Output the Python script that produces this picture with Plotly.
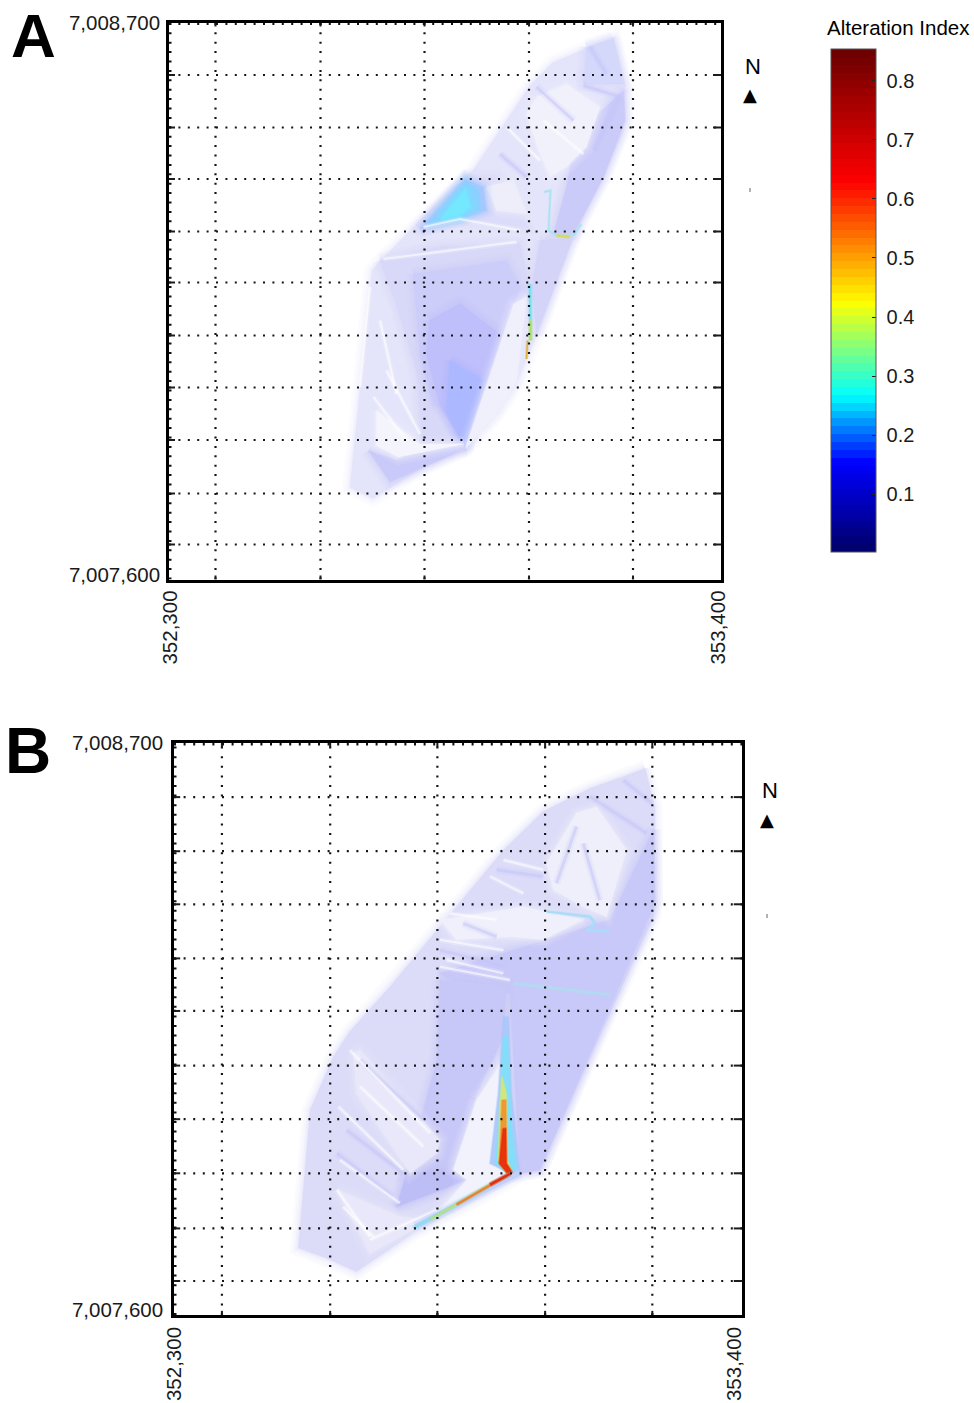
import numpy as np
import plotly.graph_objects as go

W, H = 974, 1403
FONT = "Liberation Sans"

# ---------- axes (metres, UTM-like) ----------
A_X_RANGE = [352302, 353406]
A_Y_RANGE = [7007584, 7008698]
B_X_RANGE = [352302, 353404]
B_Y_RANGE = [7007588, 7008698]
GRID_E = [352395, 352605, 352813, 353022, 353230]
GRID_N = [7008593, 7008488, 7008385, 7008280, 7008178, 7008072, 7007968, 7007863, 7007756, 7007654]
X_TICKTEXT = ["352,300", "353,400"]
Y_TICKTEXT = ["7,007,600", "7,008,700"]
A_X_TICKS = [352304, 353400]
A_Y_TICKS = [7007593, 7008698]
B_X_TICKS = [352302, 353390]
B_Y_TICKS = [7007598, 7008698]

# ---------- colour bar ----------
CB_TICKS = [0.1, 0.2, 0.3, 0.4, 0.5, 0.6, 0.7, 0.8]
CB_TICKTEXT = ["\u00a00.1", "\u00a00.2", "\u00a00.3", "\u00a00.4", "\u00a00.5", "\u00a00.6", "\u00a00.7", "\u00a00.8"]
CB_MIN, CB_MAX = 0.002, 0.854
CB_ANCHOR_POS = [0.0, 0.173, 0.308, 0.495, 0.74, 1.0]
CB_ANCHOR_RGB = [(0, 0, 110), (0, 0, 255), (0, 255, 255), (255, 255, 0), (255, 0, 0), (110, 0, 0)]

# ---------- panel A field ----------
A_OUT_E = [353190, 353198, 353214, 353214, 353208, 353170, 353110, 353044, 353018, 352998, 352958, 352894, 352810, 352710, 352664, 352674, 352690, 352708, 352730, 352810, 352910, 352978, 353024, 353070, 353144]
A_OUT_N = [7008668, 7008642, 7008576, 7008508, 7008476, 7008388, 7008268, 7008088, 7008028, 7007978, 7007916, 7007846, 7007808, 7007746, 7007768, 7007868, 7008036, 7008202, 7008226, 7008308, 7008402, 7008502, 7008572, 7008618, 7008648]
A_MID_E = [352724, 352844, 353004, 353021, 352964, 352894, 352811, 352797, 352757]
A_MID_N = [7008222, 7008249, 7008255, 7008175, 7008035, 7007845, 7007835, 7008002, 7008135]
A_MID2_E = [352790, 352977, 353004, 352964, 352911, 352831, 352804]
A_MID2_N = [7008195, 7008222, 7008169, 7008049, 7007909, 7007935, 7008035]
A_DEEP_E = [352824, 352884, 352971, 352894, 352844, 352817]
A_DEEP_N = [7008102, 7008135, 7008069, 7007845, 7007935, 7008035]
A_CORE_E = [352864, 352931, 352894, 352857]
A_CORE_N = [7008022, 7007982, 7007849, 7007922]
A_SOUTH_E = [352894, 352991, 353017, 352997, 352957]
A_SOUTH_N = [7007845, 7008135, 7008149, 7007979, 7007915]
A_SWB_E = [352701, 352744, 352894, 352811, 352757]
A_SWB_N = [7007842, 7007779, 7007845, 7007855, 7007822]
A_SWW_E = [352717, 352804, 352891, 352761, 352717]
A_SWW_N = [7007922, 7007855, 7007855, 7007829, 7007852]
A_HALO_E = [352794, 352901, 352957, 353004, 353017, 352911, 352871]
A_HALO_N = [7008279, 7008389, 7008389, 7008329, 7008289, 7008302, 7008305]
A_BOX_E = [352937, 352991, 353017, 352957]
A_BOX_N = [7008369, 7008382, 7008315, 7008322]
A_CY1_E = [352804, 352894, 352931, 352937, 352891]
A_CY1_N = [7008285, 7008385, 7008369, 7008322, 7008307]
A_CY15_E = [352819, 352896, 352921, 352924, 352887]
A_CY15_N = [7008294, 7008381, 7008362, 7008325, 7008307]
A_CY2_E = [352845, 352895, 352905, 352884]
A_CY2_N = [7008305, 7008365, 7008329, 7008312]
A_EAST_E = [353117, 353211, 353214, 353171, 353111, 353071, 353097]
A_EAST_N = [7008475, 7008562, 7008502, 7008389, 7008275, 7008275, 7008369]
A_EAST2_E = [353044, 353111, 353037, 353027]
A_EAST2_N = [7008262, 7008269, 7008075, 7008169]
A_NW_E = [353037, 353097, 353164, 353137, 353097, 353064, 353044, 353017]
A_NW_N = [7008549, 7008575, 7008529, 7008449, 7008409, 7008389, 7008435, 7008515]
A_FAN_E = [353137, 353191, 353211, 353131]
A_FAN_N = [7008649, 7008665, 7008575, 7008575]

A_PATCHES = [
    (A_MID_E, A_MID_N, "#d8d8f9"), (A_MID2_E, A_MID2_N, "#cdcdfa"), (A_DEEP_E, A_DEEP_N, "#bfbffb"),
    (A_CORE_E, A_CORE_N, "#acb8ff"),
    (A_SOUTH_E, A_SOUTH_N, "#f0f0fc"), (A_SWB_E, A_SWB_N, "#cacafa"), (A_SWW_E, A_SWW_N, "#f4f4fd"),
    (A_HALO_E, A_HALO_N, "#dcdcfa"), (A_BOX_E, A_BOX_N, "#eeeefb"), (A_CY1_E, A_CY1_N, "#b0c8ff"),
    (A_CY15_E, A_CY15_N, "#8cd0ff"), (A_CY2_E, A_CY2_N, "#74e8ff"), (A_EAST_E, A_EAST_N, "#cbcbfa"),
    (A_EAST2_E, A_EAST2_N, "#d4d4f9"), (A_NW_E, A_NW_N, "#f1f1fc"), (A_FAN_E, A_FAN_N, "#d4d8fb"),
]
A_WHITE_E = [352731, 352997, None, 352811, 352884, 353004, None, 352711, 352777, None, 352737, 352804, None, 352704, 352684, None, 352724, 352757, None, 352977, 353044, None, 353051, 353131]
A_WHITE_N = [7008225, 7008259, None, 7008289, 7008305, 7008282, None, 7007949, 7007862, None, 7008002, 7007875, None, 7008169, 7007969, None, 7008102, 7007955, None, 7008489, 7008422, None, 7008502, 7008435]
A_LAV_E = [353037, 353111, None, 352964, 353017, None, 353131, 353204, None, 353204, 353151, None, 353144, 353177]
A_LAV_N = [7008569, 7008502, None, 7008435, 7008389, None, 7008572, 7008549, None, 7008549, 7008442, None, 7008649, 7008595]

# thin high-alteration streaks, panel A
A_S1_E = [353024, 353025]
A_S1_N = [7008175, 7008102]
A_S2_E = [353025, 353025]
A_S2_N = [7008102, 7008062]
A_S3_E = [353019, 353017]
A_S3_N = [7008062, 7008025]
A_S4_E = [353052, 353065, 353061, 353077, 353111, 353127]
A_S4_N = [7008359, 7008362, 7008282, 7008272, 7008272, 7008295]
A_S5_E = [353077, 353104]
A_S5_N = [7008272, 7008269]
A_STREAKS = [
    (A_S1_E, A_S1_N, "#80e0f0", 2.5), (A_S2_E, A_S2_N, "#a8e070", 2.5), (A_S3_E, A_S3_N, "#e0b040", 1.5),
    (A_S4_E, A_S4_N, "#a8e4f0", 1.5), (A_S5_E, A_S5_N, "#d8d860", 2),
]

# ---------- panel B field ----------
B_OUT_E = [353216, 353229, 353235, 353235, 353232, 353148, 353012, 352980, 352766, 352656, 352598, 352543, 352566, 352611, 352643, 352721, 352812, 352941, 353018, 353109, 353174]
B_OUT_N = [7008649, 7008600, 7008574, 7008387, 7008361, 7008174, 7007870, 7007863, 7007747, 7007672, 7007698, 7007718, 7007986, 7008089, 7008138, 7008225, 7008335, 7008490, 7008565, 7008610, 7008633]
B_EAST_E = [353148, 353232, 353235, 353012, 352973, 352954, 352837, 352818, 353025]
B_EAST_N = [7008355, 7008529, 7008387, 7007870, 7007863, 7008212, 7008238, 7008251, 7008316]
B_CEN_E = [352818, 352947, 352941, 352889, 352844, 352753, 352786, 352812]
B_CEN_N = [7008238, 7008225, 7008128, 7008018, 7007870, 7007863, 7007986, 7008083]
B_TIP_E = [352753, 352844, 352870, 352734]
B_TIP_N = [7007863, 7007870, 7007850, 7007798]
B_WEDGE_E = [352889, 352941, 352915, 352960, 352812, 352870, 352844]
B_WEDGE_N = [7008005, 7008083, 7007882, 7007863, 7007785, 7007850, 7007870]
B_LOBE_E = [352650, 352663, 352818, 352812, 352760, 352656]
B_LOBE_N = [7008096, 7008102, 7007928, 7007902, 7007863, 7008018]
B_LOW_E = [352618, 352740, 352799, 352682]
B_LOW_N = [7007831, 7007779, 7007772, 7007707]
B_NFAN_E = [353025, 353083, 353122, 353180, 353141, 353096, 353038]
B_NFAN_N = [7008465, 7008562, 7008574, 7008490, 7008361, 7008380, 7008413]
B_MIDW_E = [352818, 352980, 353096, 353018, 352954, 352850]
B_MIDW_N = [7008355, 7008380, 7008355, 7008316, 7008322, 7008316]
B_HALO_E = [352941, 352951, 352957, 352973, 352954, 352915, 352931]
B_HALO_N = [7008167, 7008167, 7008018, 7007866, 7007863, 7007882, 7008018]
B_CYAN_E = [352941, 352949, 352957, 352967, 352947, 352925, 352934]
B_CYAN_N = [7008128, 7008128, 7007954, 7007866, 7007863, 7007882, 7007986]
B_GRN_E = [352938, 352947, 352949, 352957, 352947, 352931, 352934]
B_GRN_N = [7008051, 7008018, 7007889, 7007866, 7007863, 7007889, 7007986]
B_ORG_E = [352938, 352946, 352948, 352959, 352951, 352933]
B_ORG_N = [7008005, 7008005, 7007882, 7007864, 7007860, 7007882]
B_RED_E = [352940, 352946, 352947, 352959, 352951, 352933]
B_RED_N = [7007950, 7007950, 7007882, 7007864, 7007860, 7007882]

B_PATCHES = [
    (B_EAST_E, B_EAST_N, "#c9c9f9"), (B_CEN_E, B_CEN_N, "#c8c8f8"), (B_TIP_E, B_TIP_N, "#bebef7"),
    (B_WEDGE_E, B_WEDGE_N, "#f2f2fc"), (B_LOBE_E, B_LOBE_N, "#e8e8fa"), (B_LOW_E, B_LOW_N, "#e8e8fa"),
    (B_NFAN_E, B_NFAN_N, "#efeffb"), (B_MIDW_E, B_MIDW_N, "#f0f0fc"),
]
B_CORE = [
    (B_HALO_E, B_HALO_N, "#a8c8fb"), (B_CYAN_E, B_CYAN_N, "#80e0f8"), (B_GRN_E, B_GRN_N, "#d8e870"),
    (B_ORG_E, B_ORG_N, "#f09030"), (B_RED_E, B_RED_N, "#e82808"),
]
B_WHITE_E = [352643, 352799, None, 352621, 352747, None, 352618, 352682, None, 352682, 352812, None, 352818, 352954, None, 352818, 352941, None, 352941, 353018, None, 352663, 352786, None, 352624, 352740, None, 352630, 352689, None, 352837, 352928, None, 352831, 352941, None, 352915, 352980]
B_WHITE_N = [7008102, 7007941, None, 7007992, 7007870, None, 7007831, 7007740, None, 7007734, 7007792, None, 7008264, 7008238, None, 7008316, 7008296, None, 7008471, 7008452, None, 7008031, 7007915, None, 7007889, 7007805, None, 7007798, 7007740, None, 7008367, 7008355, None, 7008277, 7008251, None, 7008439, 7008406]
B_LAV_E = [352637, 352747, None, 352618, 352727, None, 352663, 352786, None, 352863, 352928, None, 352928, 353018, None, 352818, 352947, None, 353109, 353219, None, 353174, 353229, None, 353083, 353044, None, 353096, 353128]
B_LAV_N = [7007947, 7007863, None, 7007902, 7007818, None, 7008083, 7007967, None, 7008348, 7008322, None, 7008452, 7008439, None, 7008296, 7008264, None, 7008594, 7008523, None, 7008626, 7008581, None, 7008536, 7008426, None, 7008503, 7008393]

B_S1_E = [352973, 352770]
B_S1_N = [7007864, 7007760]
B_S2_E = [352954, 352766]
B_S2_N = [7007862, 7007756]
B_S3_E = [352928, 352799]
B_S3_N = [7007849, 7007773]
B_S4_E = [352947, 352850]
B_S4_N = [7007858, 7007802]
B_S5_E = [352954, 352915]
B_S5_N = [7007862, 7007841]
B_S6_E = [353025, 353109, 353119, 353103, 353148]
B_S6_N = [7008371, 7008361, 7008348, 7008335, 7008332]
B_S7_E = [352960, 353148]
B_S7_N = [7008232, 7008209]
B_STREAKS = [
    (B_S6_E, B_S6_N, "#a8dcf8", 2), (B_S7_E, B_S7_N, "#b0dcf0", 2),
    (B_S1_E, B_S1_N, "#c0d0fb", 5), (B_S2_E, B_S2_N, "#90dcf0", 2.5), (B_S3_E, B_S3_N, "#b8e080", 2),
    (B_S4_E, B_S4_N, "#e88030", 2), (B_S5_E, B_S5_N, "#e03010", 2.5),
]


def colour_steps(n=64):
    pos = np.linspace(0, 1, n)
    rgb = [np.interp(pos, CB_ANCHOR_POS, [c[i] for c in CB_ANCHOR_RGB]) for i in range(3)]
    scale = []
    for k in range(n):
        col = "rgb(%d,%d,%d)" % (rgb[0][k], rgb[1][k], rgb[2][k])
        scale.append([k / n, col])
        scale.append([(k + 1) / n, col])
    return scale


def rgba(hexcol, a):
    h = hexcol.lstrip("#")
    return "rgba(%d,%d,%d,%s)" % (int(h[0:2], 16), int(h[2:4], 16), int(h[4:6], 16), a)


fig = go.Figure()


def add_line(e, n, col, width, ax, dash="solid", clip=True):
    fig.add_trace(go.Scatter(x=e, y=n, mode="lines", xaxis=ax[0], yaxis=ax[1], showlegend=False,
                             hoverinfo="skip", cliponaxis=clip, connectgaps=False,
                             line=dict(color=col, width=width, dash=dash)))


def add_patch(e, n, col, ax, soft=True):
    ce, cn = e + e[:1], n + n[:1]
    if soft:
        for w, a in ((16, 0.10), (11, 0.14), (6, 0.22)):
            add_line(ce, cn, rgba(col, a), w, ax)
    fig.add_trace(go.Scatter(x=ce, y=cn, mode="lines", fill="toself", fillcolor=col if soft else rgba(col, 0.9),
                             xaxis=ax[0], yaxis=ax[1], showlegend=False, hoverinfo="skip",
                             line=dict(color=rgba(col, 0.4), width=2)))


def add_soft_line(e, n, col, width, ax, alpha):
    add_line(e, n, rgba(col, alpha * 0.3), width * 2.6, ax)
    add_line(e, n, rgba(col, alpha), width, ax)


def grid(ax, xr, yr, dash):
    ge, gn = [], []
    for g in GRID_E:
        ge += [g, g, None]
        gn += [yr[0], yr[1], None]
    for g in GRID_N:
        ge += [xr[0], xr[1], None]
        gn += [g, g, None]
    add_line(ge, gn, "#151515", 2.2, ax, dash=dash)
    # short solid stubs at the frame where grid lines meet it
    se, sn = [], []
    for g in GRID_N:
        se += [xr[0], xr[0] + 12, None, xr[1] - 16, xr[1], None]
        sn += [g, g, None, g, g, None]
    for g in GRID_E:
        se += [g, g, None, g, g, None]
        sn += [yr[1], yr[1] - 8, None, yr[0], yr[0] + 8, None]
    add_line(se, sn, "#1c1c1c", 2, ax)
    # dotted lines lying on the left and top frame edges
    add_line([xr[0], xr[0], None, xr[0], xr[1]], [yr[0], yr[1], None, yr[1], yr[1]],
             "#111111", 5, ax, dash=dash, clip=False)


def panel(ax, out_e, out_n, base, patches, core, white_e, white_n, lav_e, lav_n, streaks, xr, yr, dash):
    add_patch(out_e, out_n, base, ax)
    for e, n, c in patches:
        add_patch(e, n, c, ax)
    add_soft_line(lav_e, lav_n, "#c4c4f7", 3, ax, 0.55)
    add_soft_line(white_e, white_n, "#ffffff", 2, ax, 0.6)
    for e, n, c in core:
        add_patch(e, n, c, ax, soft=False)
    for e, n, c, w in streaks:
        add_line(e, n, rgba(c, 0.35), w * 2, ax)
        add_line(e, n, c, w, ax)
    grid(ax, xr, yr, dash)


panel(("x", "y"), A_OUT_E, A_OUT_N, "#e4e4fb", A_PATCHES, [], A_WHITE_E, A_WHITE_N, A_LAV_E, A_LAV_N, A_STREAKS,
      A_X_RANGE, A_Y_RANGE, "2px,7.4px")
panel(("x2", "y2"), B_OUT_E, B_OUT_N, "#dcdcf9", B_PATCHES, B_CORE, B_WHITE_E, B_WHITE_N, B_LAV_E, B_LAV_N, B_STREAKS,
      B_X_RANGE, B_Y_RANGE, "2px,7.6px")

# colour bar carried by an invisible marker trace at the two ends of the scale
fig.add_trace(go.Scatter(
    x=[352900, 352900], y=[7008000, 7008000], mode="markers", showlegend=False, hoverinfo="skip",
    marker=dict(size=1, opacity=0, color=[CB_MIN, CB_MAX], cmin=CB_MIN, cmax=CB_MAX, colorscale=colour_steps(),
                showscale=True,
                colorbar=dict(x=831 / W, xanchor="left", xpad=0, y=1 - 49 / H, yanchor="top", ypad=0,
                              lenmode="pixels", len=503, thicknessmode="pixels", thickness=45,
                              outlinecolor="#555555", outlinewidth=1, borderwidth=0,
                              tickmode="array", tickvals=CB_TICKS, ticktext=CB_TICKTEXT,
                              ticks="inside", ticklen=4, tickwidth=1, tickcolor="#222222",
                              tickfont=dict(family=FONT, size=20, color="#1a1a1a")))))


def axis(domain, rng, tickvals, ticktext, anchor, angle=None, ticklen=8):
    d = dict(domain=domain, range=rng, anchor=anchor, tickmode="array", tickvals=tickvals, ticktext=ticktext,
             showgrid=False, zeroline=False, showline=True, mirror=True, linecolor="black", linewidth=2.5,
             ticks="outside", ticklen=ticklen, tickwidth=0, tickcolor="rgba(0,0,0,0)",
             tickfont=dict(family=FONT, size=20.5, color="#1a1a1a"))
    if angle is not None:
        d["tickangle"] = angle
    return d


fig.update_layout(
    width=W, height=H, margin=dict(l=0, r=0, t=0, b=0, autoexpand=False),
    paper_bgcolor="white", plot_bgcolor="white", showlegend=False,
    xaxis=axis([169 / W, 721 / W], A_X_RANGE, A_X_TICKS, X_TICKTEXT, "y", angle=-90, ticklen=0),
    yaxis=axis([1 - 579.5 / H, 1 - 22.5 / H], A_Y_RANGE, A_Y_TICKS, Y_TICKTEXT, "x", ticklen=2),
    xaxis2=axis([174 / W, 742 / W], B_X_RANGE, B_X_TICKS, X_TICKTEXT, "y2", angle=-90, ticklen=1),
    yaxis2=axis([1 - 1315 / H, 1 - 743 / H], B_Y_RANGE, B_Y_TICKS, Y_TICKTEXT, "x2", ticklen=4),
)


def note(text, px, py, size, bold=False, family=FONT):
    label = "<b>%s</b>" % text if bold else text
    fig.add_annotation(text=label, x=px / W, y=1 - py / H, xref="paper", yref="paper", showarrow=False,
                       xanchor="center", yanchor="middle", font=dict(family=family, size=size, color="black"))


note("A", 33, 35.5, 62, bold=True)
note("B", 28, 751, 64, bold=True)
note("N", 753, 66, 22)
note("N", 770, 790, 22)
note("▲", 750, 95, 18, family="DejaVu Sans")
note("▲", 767, 819, 18, family="DejaVu Sans")
note("Alteration Index", 898, 28, 20.5)

# small marks below the north arrows
shapes = []
for px, py in ((750, 190), (767, 916)):
    shapes.append(dict(type="line", xref="paper", yref="paper", x0=px / W, x1=px / W, y0=1 - (py - 2) / H,
                       y1=1 - (py + 2) / H, line=dict(color="#666666", width=1)))
fig.update_layout(shapes=shapes)

fig.write_html("out.html", config={"displayModeBar": False}, post_script="document.body.style.margin='0';")
